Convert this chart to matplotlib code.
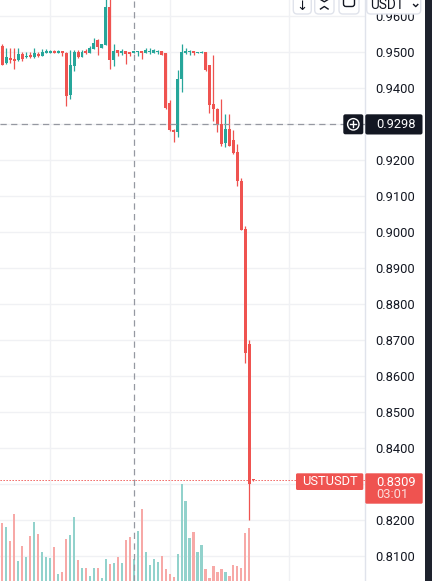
import matplotlib
matplotlib.use("Agg")
import matplotlib.pyplot as plt
from matplotlib.patches import FancyBboxPatch, Circle
from matplotlib.lines import Line2D
import numpy as np

# --- datos (velas de 1 min UST/USDT) ---
opens = [0.9515, 0.9467, 0.9482, 0.9479, 0.9476, 0.9493, 0.9485, 0.9490, 0.9485, 0.9493,
         0.9488, 0.9496, 0.9496, 0.9502, 0.9497, 0.9501, 0.9497, 0.9379, 0.9461, 0.9500,
         0.9486, 0.9501, 0.9496, 0.9507, 0.9533, 0.9511, 0.9518, 0.9625, 0.9476, 0.9504,
         0.9497, 0.9501, 0.9498, 0.9496, 0.9498, 0.9501, 0.9496, 0.9498, 0.9496, 0.9498,
         0.9501, 0.9495, 0.9356, 0.9282, 0.9276, 0.9423, 0.9497, 0.9498, 0.9501, 0.9497,
         0.9497, 0.9500, 0.9463, 0.9354, 0.9340, 0.9298, 0.9247, 0.9285, 0.9254, 0.9221,
         0.9140, 0.9007, 0.8688, 0.8313]
highs = [0.9522, 0.9509, 0.9509, 0.9509, 0.9509, 0.9500, 0.9500, 0.9500, 0.9511, 0.9500,
         0.9507, 0.9507, 0.9505, 0.9504, 0.9505, 0.9501, 0.9500, 0.9504, 0.9504, 0.9504,
         0.9504, 0.9507, 0.9514, 0.9538, 0.9535, 0.9522, 0.9660, 0.9660, 0.9522, 0.9504,
         0.9506, 0.9501, 0.9498, 0.9501, 0.9502, 0.9502, 0.9509, 0.9509, 0.9507, 0.9504,
         0.9502, 0.9496, 0.9365, 0.9284, 0.9449, 0.9522, 0.9511, 0.9504, 0.9502, 0.9500,
         0.9501, 0.9500, 0.9463, 0.9490, 0.9344, 0.9368, 0.9326, 0.9326, 0.9282, 0.9243,
         0.9150, 0.9015, 0.8699, 0.8313]
lows = [0.9463, 0.9465, 0.9467, 0.9451, 0.9474, 0.9474, 0.9483, 0.9481, 0.9483, 0.9486,
        0.9488, 0.9496, 0.9495, 0.9496, 0.9495, 0.9488, 0.9349, 0.9368, 0.9447, 0.9483,
        0.9486, 0.9494, 0.9496, 0.9507, 0.9490, 0.9511, 0.9518, 0.9451, 0.9461, 0.9488,
        0.9491, 0.9465, 0.9488, 0.9496, 0.9488, 0.9480, 0.9495, 0.9493, 0.9496, 0.9493,
        0.9490, 0.9339, 0.9279, 0.9250, 0.9263, 0.9388, 0.9494, 0.9491, 0.9491, 0.9497,
        0.9496, 0.9447, 0.9330, 0.9307, 0.9277, 0.9238, 0.9236, 0.9238, 0.9214, 0.9127,
        0.9004, 0.8634, 0.8199, 0.8306]
closes = [0.9463, 0.9485, 0.9476, 0.9474, 0.9493, 0.9478, 0.9488, 0.9485, 0.9496, 0.9488,
          0.9500, 0.9501, 0.9501, 0.9497, 0.9502, 0.9496, 0.9377, 0.9462, 0.9500, 0.9485,
          0.9500, 0.9497, 0.9511, 0.9524, 0.9512, 0.9522, 0.9625, 0.9476, 0.9502, 0.9497,
          0.9502, 0.9493, 0.9492, 0.9501, 0.9501, 0.9496, 0.9504, 0.9501, 0.9503, 0.9501,
          0.9490, 0.9342, 0.9282, 0.9276, 0.9425, 0.9500, 0.9502, 0.9502, 0.9495, 0.9500,
          0.9500, 0.9448, 0.9351, 0.9340, 0.9298, 0.9242, 0.9285, 0.9238, 0.9219, 0.9139,
          0.9004, 0.8662, 0.8300, 0.8309]
# volumen (millones, escala relativa)
volumes = [5.8, 5.4, 4.0, 6.7, 2.0, 3.5, 2.4, 4.5, 5.9, 4.7,
           2.9, 2.4, 2.3, 3.4, 0.7, 0.9, 4.2, 4.6, 6.4, 2.1,
           1.3, 1.3, 0.5, 1.3, 1.3, 0.3, 2.2, 1.7, 1.8, 2.4,
           1.8, 4.1, 4.4, 2.2, 5.0, 7.2, 2.9, 1.6, 2.2, 1.9,
           2.5, 1.2, 0.7, 0.4, 2.7, 9.7, 8.0, 4.3, 4.9, 2.9,
           3.6, 1.2, 0.3, 1.5, 0.9, 1.2, 0.9, 0.5, 1.6, 1.5,
           1.3, 4.8, 5.3, 0.0]

precio_ticks = [0.81, 0.82, 0.83, 0.84, 0.85, 0.86, 0.87, 0.88, 0.89, 0.90,
                0.91, 0.92, 0.93, 0.94, 0.95, 0.96]
# etiquetas tapadas por las cajas de precio (no se ven en el original)
ticks_ocultos = [0.83, 0.93]
simbolo = "USTUSDT"
precio_actual = 0.8309
cuenta_atras = "03:01"
precio_cursor = 0.9298
vela_cursor = 33

W, H = 432, 581
ROJO = "#ef5350"
VERDE = "#26a69a"
OSCURO = "#131722"

plt.rcParams['font.family'] = ['Roboto', 'DejaVu Sans']

fig = plt.figure(figsize=(W / 100, H / 100), dpi=100)
fig.patch.set_facecolor("white")

# ejes principales (precio)
ax = fig.add_axes([0, 0, 365 / W, 1])
ax.set_xlim(-0.58, 91.03)
ax.set_ylim(0.80292, 0.96431)

idx = np.arange(len(opens))
o = np.array(opens)
c = np.array(closes)
sube = c >= o
colores = np.where(sube, VERDE, ROJO)

ax.vlines(idx, lows, highs, colors=colores, lw=0.9, zorder=3)
altura = np.maximum(np.abs(c - o), 0.00012)
ax.bar(idx, altura, bottom=np.minimum(o, c), width=0.75, color=colores,
       linewidth=0, zorder=4)

# rejilla
ax.set_yticks(precio_ticks)
ax.set_yticklabels(["" if p in ticks_ocultos else f"{p:.4f}" for p in precio_ticks])
ax.set_xticks([12, 42, 72])
ax.grid(True, color="#f0f1f4", lw=1.0, zorder=0)
ax.set_axisbelow(True)
ax.yaxis.tick_right()
ax.tick_params(axis="y", length=0, pad=7.7, labelsize=9.3, labelcolor=OSCURO)
ax.tick_params(axis="x", length=0, labelbottom=False)
for lado in ["top", "left", "bottom"]:
    ax.spines[lado].set_visible(False)
ax.spines["right"].set_color("#e0e3eb")
ax.spines["right"].set_linewidth(1.0)

# linea de precio actual y cruz horizontal
ax.axhline(precio_actual, color=ROJO, lw=0.72, dashes=(1.3, 1.7), zorder=5)
ax.axhline(precio_cursor, color="#9598a1", lw=0.9, dashes=(5, 3.5), zorder=5)

# volumen en ejes superpuestos
axv = fig.add_axes([0, 0, 365 / W, 1], sharex=ax, zorder=1)
axv.patch.set_visible(False)
axv.axis("off")
axv.set_ylim(0, 58.1)
col_vol = np.where(sube, "#92d2cc", "#f7a9a7")
axv.bar(idx, volumes, width=0.55, color=col_vol, linewidth=0)
axv.axvline(vela_cursor, color="#9598a1", lw=0.9, dashes=(5, 3.5))


def caja(x0, y0, x1, y1, fc, ec="none", r=2.0, lw=1.0):
    p = FancyBboxPatch((x0 / 100, (H - y1) / 100), (x1 - x0) / 100, (y1 - y0) / 100,
                       boxstyle=f"round,pad=0,rounding_size={r / 100}",
                       transform=fig.dpi_scale_trans, fc=fc, ec=ec, lw=lw, zorder=10)
    fig.add_artist(p)


def texto(x, y, s, **kw):
    kw.setdefault("zorder", 11)
    fig.text(x / W, 1 - y / H, s, **kw)


def linea(xs, ys, **kw):
    fig.add_artist(Line2D([x / W for x in xs], [1 - y / H for y in ys],
                          transform=fig.transFigure, zorder=11, **kw))


# etiqueta del cursor
caja(343.3, 114.3, 363.3, 134.3, OSCURO, r=2)
fig.add_artist(Circle((353.3 / 100, (H - 124.3) / 100), 0.057, transform=fig.dpi_scale_trans,
                      fc="none", ec="white", lw=1.0, zorder=11))
linea([350.2, 356.4], [124.3, 124.3], color="white", lw=1.0)
linea([353.3, 353.3], [121.2, 127.4], color="white", lw=1.0)
caja(365.3, 114.3, 422.5, 134.5, OSCURO, r=2)
texto(376, 124.6, f"{precio_cursor:.4f}", color="white", fontsize=9.3, va="center")

# etiquetas de precio actual
caja(296, 473.3, 363.3, 490, ROJO, r=1.5)
texto(329.7, 481.8, simbolo, color="white", fontsize=9.3, va="center", ha="center")
caja(365.3, 473.3, 422.7, 503.7, ROJO, r=1.5)
texto(376, 482.0, f"{precio_actual:.4f}", color="white", fontsize=9.3, va="center")
texto(376, 495.0, cuenta_atras, color="white", alpha=0.8, fontsize=9.3, va="center")

# barra de botones (cortada arriba)
gris = "#e0e3eb"
caja(293.3, -10, 311.3, 14, "white", ec=gris, r=4)
texto(302.3, 9.5, "↓", color=OSCURO, fontsize=9.5, ha="center", va="baseline",
      family="DejaVu Sans")
caja(314.7, -10, 334, 14, "white", ec=gris, r=4)
linea([320.5, 324.3, 328.1], [-0.5, 1.8, -0.5], color=OSCURO, lw=1.0)
linea([320.5, 324.3, 328.1], [9.0, 6.5, 9.0], color=OSCURO, lw=1.0)
caja(339, -10, 359, 14, "white", ec=gris, r=4)
caja(343.5, -6, 354.5, 6.5, "none", ec=OSCURO, r=2.5, lw=1.0)
caja(366.7, -10, 420.7, 14, "white", ec=gris, r=4)
texto(370, 9.2, "USDT", color=OSCURO, fontsize=9.8, va="baseline")
linea([413.6, 415.7, 417.8], [4.5, 6.6, 4.5], color=OSCURO, lw=1.0)

# borde oscuro a la derecha
fig.add_artist(FancyBboxPatch((425 / 100, 0), 7 / 100, H / 100, boxstyle="square,pad=0",
                              transform=fig.dpi_scale_trans, fc="#1e222d", ec="none",
                              zorder=12))

fig.savefig("out.png", dpi=100)
